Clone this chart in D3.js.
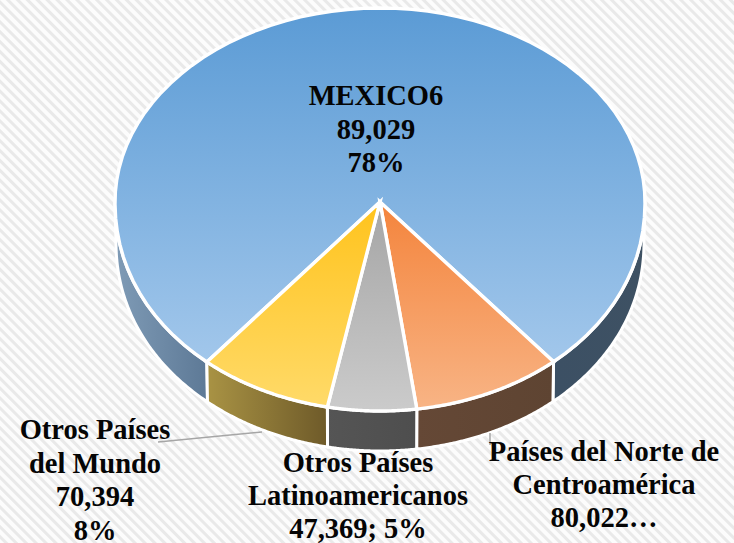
<!DOCTYPE html>
<html><head><meta charset="utf-8">
<style>html,body{margin:0;padding:0;background:#fff}svg{display:block}
text{font-family:"Liberation Serif","Times New Roman",serif;font-weight:700;fill:#050505;font-size:28.5px;text-anchor:middle}</style>
<script src="https://cdn.jsdelivr.net/npm/d3@7/dist/d3.min.js"></script></head><body>
<script>
// Data
const categories = ["MEXICO6", "Países del Norte de Centroamérica", "Otros Países Latinoamericanos", "Otros Países del Mundo"];
const sliceShares = [77.3, 9.15, 5.4, 8.15];           // measured slice sizes (%)
const labelLines = [
  ["MEXICO6", "89,029", "78%"],
  ["Países del Norte de", "Centroamérica", "80,022…"],
  ["Otros Países", "Latinoamericanos", "47,369; 5%"],
  ["Otros Países", "del Mundo", "70,394", "8%"]
];
const topColors = [["#5B9BD5","#A2C7EB"],["#F4843C","#F8B485"],["#A5A5A5","#CBCBCB"],["#FFC31C","#FFDA69"]];
const wallColors = [["#7F9BB6","#5E7A97","#3C5064","#3E5163"],["#654836","#5E4432"],["#555555","#4E4E4E"],["#A99344","#6E5A29"]];

const W = 734, H = 543;
const cx = 380, cy = 202, rx = 265, ryTop = 194, ryBot = 209, depth = 40;
const labelPos = [[376, 105, 33.5], [604, 461, 33], [358, 472, 33], [95, 439, 33.5]];

const svg = d3.select("body").append("svg").attr("width", W).attr("height", H);
const defs = svg.append("defs");
const pat = defs.append("pattern").attr("id","hatch").attr("patternUnits","userSpaceOnUse")
  .attr("width",7).attr("height",7).attr("patternTransform","rotate(45)");
pat.append("rect").attr("width",7).attr("height",7).attr("fill","#fcfcfc");
pat.append("rect").attr("width",7).attr("height",3).attr("fill","#e9e9e9");
svg.append("rect").attr("width",W).attr("height",H).attr("fill","url(#hatch)");

const pie = d3.pie().sort(null).value(d => d)
  .startAngle(-139.2 * Math.PI / 180).endAngle(220.8 * Math.PI / 180);
const arcs = pie(sliceShares);

const px = (a, r = rx) => cx + r * Math.sin(a);
const py = a => { const c = Math.cos(a); return c > 0 ? cy - c * ryTop : cy + Math.pow(-c, 0.96) * ryBot; };
const sample = (a0, a1) => d3.range(0, 81).map(i => a0 + (a1 - a0) * i / 80);
const line = d3.line();

topColors.forEach((c, i) => {
  const g = defs.append("linearGradient").attr("id","top"+i).attr("x1",0).attr("y1",0).attr("x2",0).attr("y2",1);
  g.append("stop").attr("offset",0).attr("stop-color",c[0]);
  g.append("stop").attr("offset",1).attr("stop-color",c[1]);
});
wallColors.forEach((c, i) => {
  const g = defs.append("linearGradient").attr("id","wall"+i).attr("x1",0).attr("y1",0).attr("x2",1).attr("y2",0);
  if (i === 0) g.attr("gradientUnits","userSpaceOnUse").attr("x1",cx-rx).attr("x2",cx+rx);
  const offs = i === 0 ? [0, 0.17, 0.83, 1] : [0, 1];
  c.forEach((col, k) => g.append("stop").attr("offset",offs[k]).attr("stop-color",col));
});

// Side walls: only the part of every slice that faces the viewer
const wallPath = (a0, a1) => {
  const upper = sample(a0, a1).map(a => [px(a), py(a)]);
  const lower = sample(a1, a0).map(a => [px(a, rx - 1), py(a) + depth]);
  return line(upper.concat(lower)) + "Z";
};
const Q = Math.PI / 2, TQ = 3 * Math.PI / 2, TAU = 2 * Math.PI;
const wallG = svg.append("g");
arcs.forEach((d, i) => {
  [0, TAU, -TAU].forEach(shift => {
    const a0 = Math.max(d.startAngle + shift, Q), a1 = Math.min(d.endAngle + shift, TQ);
    if (a1 > a0) wallG.append("path").attr("d", wallPath(a0, a1))
      .attr("fill", `url(#wall${i})`).attr("stroke","#fff").attr("stroke-width",3).attr("stroke-linejoin","round");
  });
});

// Top faces
svg.append("g").selectAll("path").data(arcs).join("path")
  .attr("d", d => line([[cx, cy]].concat(sample(d.startAngle, d.endAngle).map(a => [px(a), py(a)]))) + "Z")
  .attr("fill", (d, i) => `url(#top${i})`)
  .attr("stroke","#fff").attr("stroke-width",3.4).attr("stroke-linejoin","miter");

// Leader lines
const leaders = [[[158,442],[262,432]], [[490,433],[490,445]]];
svg.append("g").selectAll("path").data(leaders).join("path")
  .attr("d", d => line(d)).attr("stroke","#a6a6a6").attr("stroke-width",1.5).attr("fill","none");

// Labels
labelLines.forEach((lines, i) => {
  const [x, y, dy] = labelPos[i];
  const t = svg.append("text").attr("data-cat", categories[i]);
  lines.forEach((s, k) => t.append("tspan").attr("x", x).attr("y", y + k * dy).text(s));
});
</script></body></html>
